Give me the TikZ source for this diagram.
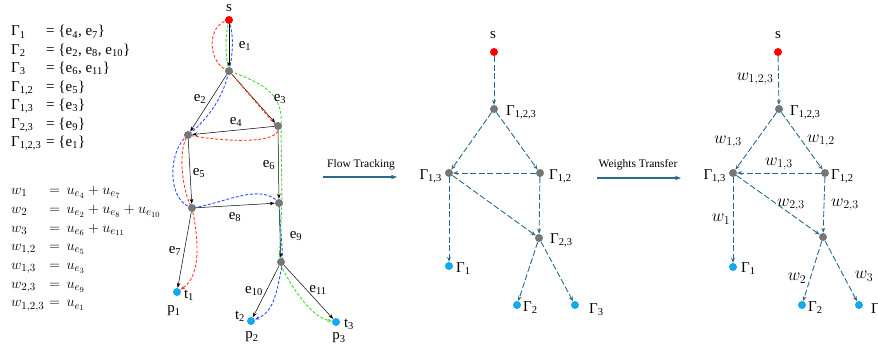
\documentclass[tikz,border=0pt]{standalone}
\usepackage{fontspec}
\setmainfont{Liberation Serif}
\usetikzlibrary{arrows.meta}
\pgfdeclarelayer{bg}
\pgfsetlayers{bg,main}
\definecolor{tealE}{HTML}{2B6A8E}
\definecolor{redP}{HTML}{FF3B1F}
\definecolor{blueP}{HTML}{2E4FFF}
\definecolor{greenP}{HTML}{3CDC28}
\definecolor{grayN}{HTML}{767676}
\definecolor{cyanN}{HTML}{12AAEC}
\definecolor{redN}{HTML}{FF0000}
\newcommand\lsub[1]{\textsubscript{#1}}
\begin{document}
\begin{tikzpicture}[x=1pt,y=-1pt,
  dot/.style={circle,inner sep=0pt,minimum size=8pt,fill=#1},
  txt/.style={inner sep=0pt,font=\fontsize{15}{17}\selectfont},
  wl/.style={inner sep=0pt,font=\fontsize{16.5}{18}\selectfont},
  lst/.style={inner sep=0pt,anchor=base west,font=\fontsize{15}{17}\selectfont},
  lsm/.style={lst,font=\fontsize{15.5}{17}\selectfont},
  blk/.style={draw=black,line width=0.5pt,-{Stealth[length=5pt,width=3.5pt]}},
  tl/.style={draw=tealE,line width=0.9pt,dash pattern=on 6pt off 2.5pt,-{Stealth[length=5pt,width=4pt]}},
  cp/.style={draw=#1,line width=0.9pt,dash pattern=on 3pt off 1.8pt},
  cpa/.style={cp=#1,-{Stealth[length=4.5pt,width=3.5pt]}},
  big/.style={draw=tealE,line width=1.3pt,-{Stealth[length=6pt,width=4.5pt]}},
  sml/.style={inner sep=0pt,font=\fontsize{11.5}{13}\selectfont}
]
\useasboundingbox (0,0) rectangle (878,353);

% ---------- left list ----------
\node[lst] (g1n) at (11,36) {Γ\lsub{1}};
\node[lst] (g1v) at (46,36) {= \{e\lsub{4}, e\lsub{7}\}};
\node[lst] (g2n) at (11,54.4) {Γ\lsub{2}};
\node[lst] (g2v) at (46,54.4) {= \{e\lsub{2}, e\lsub{8}, e\lsub{10}\}};
\node[lst] (g3n) at (11,72.8) {Γ\lsub{3}};
\node[lst] (g3v) at (46,72.8) {= \{e\lsub{6}, e\lsub{11}\}};
\node[lst] (g12n) at (11,91.2) {Γ\lsub{1,2}};
\node[lst] (g12v) at (46,91.2) {= \{e\lsub{5}\}};
\node[lst] (g13n) at (11,109.6) {Γ\lsub{1,3}};
\node[lst] (g13v) at (46,109.6) {= \{e\lsub{3}\}};
\node[lst] (g23n) at (11,128) {Γ\lsub{2,3}};
\node[lst] (g23v) at (46,128) {= \{e\lsub{9}\}};
\node[lst] (g123n) at (11,146.4) {Γ\lsub{1,2,3}};
\node[lst] (g123v) at (46,146.4) {= \{e\lsub{1}\}};

\node[lsm] (w1n) at (11,194.7) {$w_1$};
\node[lsm] (w1v) at (49,194.7) {$=\,u_{e_4}+u_{e_7}$};
\node[lsm] (w2n) at (11,213.4) {$w_2$};
\node[lsm] (w2v) at (49,213.4) {$=\,u_{e_2}+u_{e_8}+u_{e_{10}}$};
\node[lsm] (w3n) at (11,232.1) {$w_3$};
\node[lsm] (w3v) at (49,232.1) {$=\,u_{e_6}+u_{e_{11}}$};
\node[lsm] (w12n) at (11,250.8) {$w_{1,2}$};
\node[lsm] (w12v) at (49,250.8) {$=\,u_{e_5}$};
\node[lsm] (w13n) at (11,269.5) {$w_{1,3}$};
\node[lsm] (w13v) at (49,269.5) {$=\,u_{e_3}$};
\node[lsm] (w23n) at (11,288.2) {$w_{2,3}$};
\node[lsm] (w23v) at (49,288.2) {$=\,u_{e_9}$};
\node[lsm] (w123n) at (11,306.9) {$w_{1,2,3}$};
\node[lsm] (w123v) at (49,306.9) {$=\,u_{e_1}$};

% ---------- left graph ----------
\node[dot=redN] (s) at (229,20) {};
\node[dot=grayN] (a) at (229,71) {};
\node[dot=grayN] (b) at (188,135) {};
\node[dot=grayN] (c) at (278,126) {};
\node[dot=grayN] (d) at (192,208) {};
\node[dot=grayN] (f) at (279,203) {};
\node[dot=grayN] (g) at (281,262) {};
\node[dot=cyanN] (t1) at (177,292) {};
\node[dot=cyanN] (t2) at (251,321) {};
\node[dot=cyanN] (t3) at (336,322) {};

\node[txt] (sl) at (229,8) {s};
\node[txt] (e1) at (245,46) {e\lsub{1}};
\node[txt] (e2) at (200,99) {e\lsub{2}};
\node[txt] (e3) at (280,99) {e\lsub{3}};
\node[txt] (e4) at (236,122) {e\lsub{4}};
\node[txt] (e5) at (199,173) {e\lsub{5}};
\node[txt] (e6) at (269,165) {e\lsub{6}};
\node[txt] (e7) at (175,251) {e\lsub{7}};
\node[txt] (e8) at (235,217) {e\lsub{8}};
\node[txt] (e9) at (296,236) {e\lsub{9}};
\node[txt] (e10) at (254,291) {e\lsub{10}};
\node[txt] (e11) at (318,290) {e\lsub{11}};
\node[txt] (t1l) at (189,295) {t\lsub{1}};
\node[txt] (p1l) at (174,311) {p\lsub{1}};
\node[txt] (t2l) at (240,316) {t\lsub{2}};
\node[txt] (p2l) at (252,337) {p\lsub{2}};
\node[txt] (t3l) at (349,324) {t\lsub{3}};
\node[txt] (p3l) at (339,338) {p\lsub{3}};

\begin{pgfonlayer}{bg}
\draw[blk] (s) -- (a);
\draw[blk] (a) -- (b);
\draw[blk] (a) -- (c);
\draw[blk] (c) -- (b);
\draw[blk] (b) -- (d);
\draw[blk] (c) -- (f);
\draw[blk] (d) -- (f);
\draw[blk] (d) -- (t1);
\draw[blk] (f) -- (g);
\draw[blk] (g) -- (t2);
\draw[blk] (g) -- (t3);
% red path
\draw[cpa=redP] (s.center) .. controls (206,24) and (207,64) .. (a.center)
  -- ([yshift=-2pt]c.center)
  .. controls (281,143) and (230,143) .. (b.center)
  .. controls (176,152) and (184,196) .. (d.center)
  .. controls (199,240) and (201,276) .. (t1);
% blue path
\draw[cpa=blueP] (s.center) .. controls (234,35) and (233,55) .. (a.center)
  .. controls (222,103) and (202,124) .. (b.center)
  .. controls (168,150) and (166,200) .. (d.center)
  .. controls (225,203) and (262,182) .. (f.center)
  -- ([xshift=2pt]g.center)
  .. controls (277,287) and (276,311) .. (t2);
% green path
\draw[cpa=greenP] (s.center) .. controls (225,35) and (225,55) .. (a.center)
  .. controls (262,83) and (284,93) .. ([xshift=3pt]c.center)
  -- ([xshift=3pt]f.center)
  -- ([xshift=-2pt]g.center)
  .. controls (294,292) and (312,317) .. (t3);
\end{pgfonlayer}

% ---------- arrows between panels ----------
\coordinate (ft1) at (323,177);
\coordinate (ft2) at (397,177);
\draw[big] (ft1) -- (ft2);
\node[sml] (ftl) at (361,165) {Flow Tracking};
\coordinate (wt1) at (597,178);
\coordinate (wt2) at (681,178);
\draw[big] (wt1) -- (wt2);
\node[sml] (wtl) at (638,165) {Weights Transfer};

% ---------- middle graph ----------
\node[dot=redN] (ms) at (494,52) {};
\node[dot=grayN] (m123) at (494,109) {};
\node[dot=grayN] (m13) at (449,173) {};
\node[dot=grayN] (m12) at (540,173) {};
\node[dot=grayN] (m23) at (539,238) {};
\node[dot=cyanN] (m1) at (449,266) {};
\node[dot=cyanN] (m2) at (517,305) {};
\node[dot=cyanN] (m3) at (575,305) {};
\node[txt] (msl) at (493,35) {s};
\node[txt,anchor=west] (m123l) at (506,112) {Γ\lsub{1,2,3}};
\node[txt,anchor=east] (m13l) at (442,176) {Γ\lsub{1,3}};
\node[txt,anchor=west] (m12l) at (549,176) {Γ\lsub{1,2}};
\node[txt,anchor=west] (m23l) at (550,240) {Γ\lsub{2,3}};
\node[txt,anchor=west] (m1l) at (456,269) {Γ\lsub{1}};
\node[txt,anchor=west] (m2l) at (523,308) {Γ\lsub{2}};
\node[txt,anchor=west] (m3l) at (589,310) {Γ\lsub{3}};
\begin{pgfonlayer}{bg}
\draw[tl] (ms) -- (m123);
\draw[tl] (m123) -- (m13);
\draw[tl] (m123) -- (m12);
\draw[tl] (m12) -- (m13);
\draw[tl] (m13) -- (m23);
\draw[tl] (m12) -- (m23);
\draw[tl] (m13) -- (m1);
\draw[tl] (m23) -- (m2);
\draw[tl] (m23) -- (m3);
\end{pgfonlayer}

% ---------- right graph ----------
\node[dot=redN] (rs) at (778,52) {};
\node[dot=grayN] (r123) at (779,109) {};
\node[dot=grayN] (r13) at (733,173) {};
\node[dot=grayN] (r12) at (825,173) {};
\node[dot=grayN] (r23) at (823,237) {};
\node[dot=cyanN] (r1) at (733,267) {};
\node[dot=cyanN] (r2) at (802,305) {};
\node[dot=cyanN] (r3) at (859,305) {};
\node[txt] (rsl) at (778,35) {s};
\node[txt,anchor=west] (r123l) at (790,112) {Γ\lsub{1,2,3}};
\node[txt,anchor=east] (r13l) at (726,176) {Γ\lsub{1,3}};
\node[txt,anchor=west] (r12l) at (831,176) {Γ\lsub{1,2}};
\node[txt,anchor=west] (r1l) at (741,269) {Γ\lsub{1}};
\node[txt,anchor=west] (r2l) at (808,308) {Γ\lsub{2}};
\node[txt,anchor=west] (r3l) at (871,310) {Γ\lsub{3}};
\node[wl] (lw123) at (755,79) {$w_{1,2,3}$};
\node[wl] (lw13a) at (728,142) {$w_{1,3}$};
\node[wl] (lw12) at (821,141) {$w_{1,2}$};
\node[wl] (lw13b) at (779,164) {$w_{1,3}$};
\node[wl] (lw23a) at (791,205) {$w_{2,3}$};
\node[wl] (lw23b) at (845,205) {$w_{2,3}$};
\node[wl] (lw1) at (721,219) {$w_{1}$};
\node[wl] (lw2) at (797,278) {$w_{2}$};
\node[wl] (lw3) at (864,276) {$w_{3}$};
\begin{pgfonlayer}{bg}
\draw[tl] (rs) -- (r123);
\draw[tl] (r123) -- (r13);
\draw[tl] (r123) -- (r12);
\draw[tl] (r12) -- (r13);
\draw[tl] (r13) -- (r23);
\draw[tl] (r12) -- (r23);
\draw[tl] (r13) -- (r1);
\draw[tl] (r23) -- (r2);
\draw[tl] (r23) -- (r3);
\end{pgfonlayer}
\end{tikzpicture}
\end{document}
